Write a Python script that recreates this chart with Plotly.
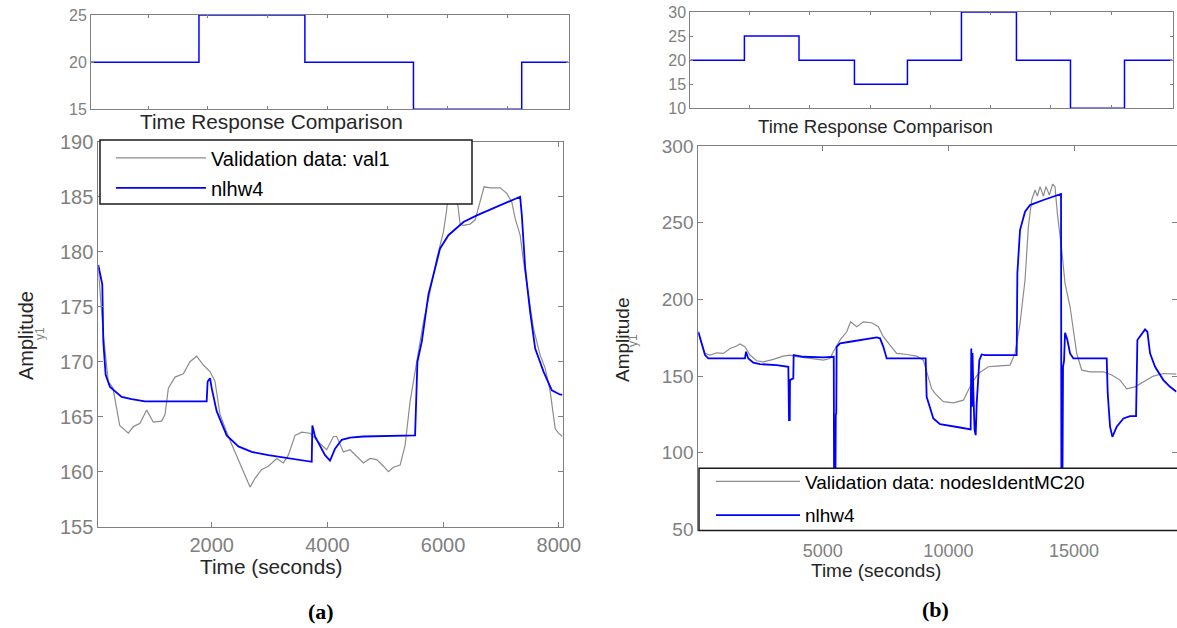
import plotly.graph_objects as go

W, H = 1177, 628

# ---------------- Panel (a) data ----------------
ua_t = [48, 1850, 3618, 5430, 7237, 8018]
ua_v = [20, 25, 20, 15, 20, 20]

ga_t = [40, 127, 213, 294, 410, 559, 646, 761, 876, 991, 1135, 1193, 1251, 1366, 1510, 1625,
        1740, 1856, 1971, 2057, 2144, 2288, 2403, 2547, 2663, 2749, 2864, 2980, 3124, 3239,
        3325, 3441, 3556, 3700, 3844, 3988, 4104, 4161, 4277, 4392, 4507, 4622, 4738, 4853,
        4968, 5055, 5141, 5257, 5343, 5430, 5545, 5660, 5775, 5891, 6006, 6064, 6120, 6200,
        6260, 6294, 6352, 6467, 6554, 6640, 6709, 6813, 6986, 7101, 7188, 7246, 7332, 7390,
        7476, 7563, 7678, 7765, 7851, 7938, 7996, 8064]
ga_y = [178.5, 172.5, 168.2, 167.6, 164.2, 163.5, 164.1, 164.4, 165.6, 164.5, 164.6, 165.2,
        167.6, 168.6, 168.9, 170.0, 170.5, 169.7, 169.1, 168.2, 165.2, 163.2, 161.8, 160.0,
        158.6, 159.4, 160.2, 160.5, 161.2, 160.8, 161.5, 163.3, 163.6, 163.5, 162.7, 162.0,
        163.2, 163.2, 161.8, 162.0, 161.4, 160.8, 161.2, 161.1, 160.5, 160.0, 160.4, 160.6,
        162.4, 166.4, 170.0, 173.6, 176.4, 179.4, 181.8, 183.9, 186.8, 186.2, 184.0, 182.5,
        182.4, 182.5, 182.9, 184.5, 185.9, 185.8, 185.8, 185.3, 184.5, 183.0, 181.5, 179.1,
        176.1, 173.0, 170.6, 169.4, 167.3, 163.9, 163.5, 163.2]

ba_t = [40, 109, 127, 167, 242, 444, 617, 847, 1913, 1930, 1971, 2000, 2086, 2259, 2461, 2691,
        2980, 3325, 3729, 3740, 3786, 3959, 4046, 4132, 4248, 4392, 4622, 5516, 5556, 5631,
        5746, 5862, 5948, 6092, 6352, 6583, 6929, 7332, 7361, 7419, 7505, 7592, 7736, 7880,
        8025, 8064]
ba_y = [178.8, 177.0, 171.8, 168.8, 167.7, 166.8, 166.6, 166.4, 166.4, 168.2, 168.5, 167.6,
        165.5, 163.3, 162.3, 161.8, 161.5, 161.2, 160.9, 164.2, 163.2, 161.5, 161.0, 162.1,
        162.9, 163.1, 163.2, 163.3, 170.0, 171.8, 176.1, 178.5, 180.3, 181.5, 182.7, 183.3,
        184.1, 185.0, 183.3, 178.5, 174.5, 171.2, 169.1, 167.4, 167.0, 167.0]

# ---------------- Panel (b) data ----------------
ub_t = [40, 1834, 3645, 5483, 7240, 9031, 10855, 12647, 14438, 16030]
ub_v = [20, 25, 20, 15, 20, 30, 20, 10, 20, 20]

gb_t = [53, 318, 517, 782, 1048, 1313, 1578, 1711, 1909, 2108, 2374, 2639, 3037, 3434, 3700,
        3965, 4495, 5026, 5291, 5424, 5689, 5954, 6113, 6352, 6617, 6949, 7214, 7413, 7678,
        7943, 8341, 8739, 9003, 9162, 9335, 9468, 9799, 10197, 10595, 10727, 10926, 11191,
        11390, 11589, 11921, 12451, 12650, 12849, 13048, 13181, 13313, 13446, 13539, 13645,
        13777, 13883, 14016, 14148, 14241, 14334, 14507, 14640, 14839, 14971, 15104, 15303,
        15634, 16165, 16496, 16827, 17092, 17424, 17756, 18154, 18552, 19073]
gb_y = [177.8, 164.8, 163.7, 165.2, 164.8, 168.0, 169.6, 170.9, 169.1, 163.7, 160.0, 159.3,
        160.9, 163.0, 163.7, 162.6, 161.5, 160.4, 161.5, 165.9, 173.5, 178.9, 185.4, 182.2,
        185.4, 184.8, 182.2, 175.7, 170.2, 164.8, 164.1, 163.0, 160.4, 151.7, 141.7, 138.7,
        133.3, 132.6, 134.3, 138.7, 145.2, 151.7, 153.9, 156.1, 156.5, 157.2, 164.8, 184.3,
        212.6, 247.4, 264.8, 271.3, 267.4, 273.5, 267.4, 273.5, 268.0, 275.2, 273.5, 256.1,
        232.2, 210.4, 195.2, 180.0, 164.8, 153.9, 152.8, 152.8, 150.7, 147.4, 141.7, 143.0,
        146.3, 150.0, 151.7, 151.3]

bb_t = [53, 186, 318, 451, 1909, 1949, 2042, 2241, 2506, 3169, 3633, 3660, 3690, 3700, 3830,
        3845, 4230, 5026, 5424, 5440, 5455, 5500, 5520, 5540, 5555, 5689, 6087, 6617, 7148,
        7280, 7412, 7545, 9096, 9135, 9269, 9401, 9667, 10064, 10462, 10886, 10910, 10935,
        10960, 10993, 11040, 11086, 11125, 11231, 11324, 11456, 12716, 12743, 12849, 13048,
        13247, 13777, 14480, 14495, 14530, 14560, 14600, 14640, 14733, 14839, 14971, 16297,
        16337, 16430, 16523, 16695, 16960, 17225, 17464, 17517, 17623, 17822, 17915, 18021,
        18220, 18552, 18817, 19073]
bb_y = [178.9, 171.3, 163.7, 161.5, 161.5, 165.9, 161.5, 158.7, 157.8, 157.2, 156.1, 121.3,
        121.3, 147.4, 148.5, 163.7, 162.6, 162.2, 162.6, 162.6, 60.0, 60.0, 125.0, 125.7,
        169.1, 171.3, 172.4, 173.9, 175.2, 174.6, 169.1, 161.5, 161.5, 136.5, 130.0, 122.4,
        118.7, 117.4, 116.5, 115.2, 168.0, 130.0, 165.0, 140.0, 115.0, 111.5, 132.0, 160.4,
        164.1, 163.7, 163.7, 217.0, 245.2, 257.2, 261.5, 264.8, 268.7, 60.0, 60.0, 156.1,
        160.0, 178.3, 173.5, 164.8, 161.5, 161.5, 138.7, 117.0, 110.4, 117.0, 122.4, 123.9,
        123.9, 173.5, 175.7, 180.4, 178.9, 164.8, 156.1, 147.4, 143.0, 139.8]

# tick values
ta_top = [1000, 2000, 3000, 4000, 5000, 6000, 7000]
ta_x = [2000, 4000, 6000, 8000]
ta_y = [155, 160, 165, 170, 175, 180, 185, 190]
ta_u = [15, 20, 25]
tb_top = [2000, 4000, 6000, 8000, 10000, 12000, 14000]
tb_x = [5000, 10000, 15000]
tb_y = [50, 100, 150, 200, 250, 300]
tb_u = [10, 15, 20, 25, 30]

GRAY_LINE = "#8c8c8c"
BLUE = "#0000ff"
AX = "#808080"
TXT = "#262626"
FONT = "Liberation Sans, Arial, sans-serif"


def px_x(p):
    return p / W


def px_y(p):
    return 1 - p / H


fig = go.Figure()

fig.add_trace(go.Scatter(x=ua_t, y=ua_v, mode="lines", line=dict(color=BLUE, width=1.5, shape="hv"),
                         showlegend=False, xaxis="x", yaxis="y"))
fig.add_trace(go.Scatter(x=ga_t, y=ga_y, mode="lines", line=dict(color=GRAY_LINE, width=1.2),
                         name="Validation data: val1", legend="legend", legendgroup="a1",
                         xaxis="x2", yaxis="y2"))
fig.add_trace(go.Scatter(x=ba_t, y=ba_y, mode="lines", line=dict(color=BLUE, width=1.8),
                         name="nlhw4", legend="legend", legendgroup="a2", xaxis="x2", yaxis="y2"))
fig.add_trace(go.Scatter(x=ub_t, y=ub_v, mode="lines", line=dict(color=BLUE, width=1.5, shape="hv"),
                         showlegend=False, xaxis="x3", yaxis="y3"))
fig.add_trace(go.Scatter(x=gb_t, y=gb_y, mode="lines", line=dict(color=GRAY_LINE, width=1.2),
                         name="Validation data: nodesIdentMC20", legend="legend2", legendgroup="b1",
                         xaxis="x4", yaxis="y4"))
fig.add_trace(go.Scatter(x=bb_t, y=bb_y, mode="lines", line=dict(color=BLUE, width=1.8),
                         name="nlhw4", legend="legend2", legendgroup="b2", xaxis="x4", yaxis="y4"))


def axis(dom, rng, tickvals, showlabels=True, size=19, ticklen=5, anchor=None, standoff=0):
    return dict(domain=dom, range=rng, tickvals=tickvals, ticktext=[str(v) for v in tickvals],
                showline=True, linecolor=AX, linewidth=1, automargin=False,
                mirror="allticks", ticks="inside", ticklen=ticklen, tickcolor=AX, tickwidth=1,
                showgrid=False, zeroline=False, showticklabels=showlabels, anchor=anchor,
                ticklabelstandoff=standoff,
                tickfont=dict(family=FONT, size=size, color=AX))


layout = dict(
    template="none",
    width=W, height=H, margin=dict(l=0, r=0, t=0, b=0, pad=0, autoexpand=False),
    paper_bgcolor="white", plot_bgcolor="white",
    font=dict(family=FONT, color=TXT),
    xaxis=axis([px_x(91), px_x(568.5)], [48, 8018], ta_top, showlabels=False, ticklen=3, anchor="y"),
    yaxis=axis([px_y(109.3), px_y(15)], [15, 25], ta_u, size=16, ticklen=3, anchor="x"),
    xaxis2=axis([px_x(98.3), px_x(562.5)], [40, 8064], ta_x, size=20, anchor="y2"),
    yaxis2=axis([px_y(526.7), px_y(141.7)], [155, 190], ta_y, size=20, anchor="x2"),
    xaxis3=axis([px_x(690.3), px_x(1172.5)], [40, 16030], tb_top, showlabels=False, ticklen=3, anchor="y3"),
    yaxis3=axis([px_y(108.3), px_y(12)], [10, 30], tb_u, size=16, ticklen=3, anchor="x3"),
    xaxis4=axis([px_x(698.3), px_x(1176.5)], [52, 19073], tb_x, size=18, anchor="y4", standoff=5),
    yaxis4=axis([px_y(529.5), px_y(146)], [50, 300], tb_y, size=19, anchor="x4"),
    legend=dict(x=px_x(111), y=px_y(138.3), xanchor="left", yanchor="top", bgcolor="rgba(0,0,0,0)",
                borderwidth=0, font=dict(family=FONT, size=20, color="black"), itemwidth=90,
                tracegroupgap=1),
    legend2=dict(x=px_x(711), y=px_y(462.5), xanchor="left", yanchor="top", bgcolor="rgba(0,0,0,0)",
                 borderwidth=0, font=dict(family=FONT, size=19, color="black"), itemwidth=84,
                 tracegroupgap=6),
    shapes=[
        dict(type="rect", xref="paper", yref="paper", x0=px_x(100), x1=px_x(472),
             y0=px_y(204), y1=px_y(140), fillcolor="white", line=dict(color="#1a1a1a", width=1.5),
             layer="above"),
        dict(type="rect", xref="paper", yref="paper", x0=px_x(699), x1=px_x(1185),
             y0=px_y(530.5), y1=px_y(468.3), fillcolor="white", line=dict(color="#1a1a1a", width=1.5),
             layer="above"),
    ],
)

ann = []


def text(x, y, s, size, color=TXT, angle=0, family=FONT):
    ann.append(dict(x=px_x(x), y=px_y(y), xref="paper", yref="paper", text=s, showarrow=False,
                    xanchor="center", yanchor="middle", textangle=angle,
                    font=dict(family=family, size=size, color=color)))


text(271, 121.7, "Time Response Comparison", 20.8)
text(875, 126.7, "Time Response Comparison", 18.6)
text(271, 566.7, "Time (seconds)", 20.8)
text(876, 570, "Time (seconds)", 19)
text(26, 336, "Amplitude", 20, angle=-90)
text(622, 340, "Amplitude", 19, angle=-90)
text(40, 334, "y1", 12, color=AX, angle=-90)
text(633, 341, "y1", 12, color=AX, angle=-90)
text(321, 611, "<b>(a)</b>", 22, color="black", family="Liberation Serif, Times New Roman, serif")
text(935, 609, "<b>(b)</b>", 22, color="black", family="Liberation Serif, Times New Roman, serif")
layout["annotations"] = ann

fig.update_layout(**layout)
fig.write_html("out.html", config={"displayModeBar": False},
               post_script="document.body.style.margin='0';document.body.style.overflow='hidden';")
